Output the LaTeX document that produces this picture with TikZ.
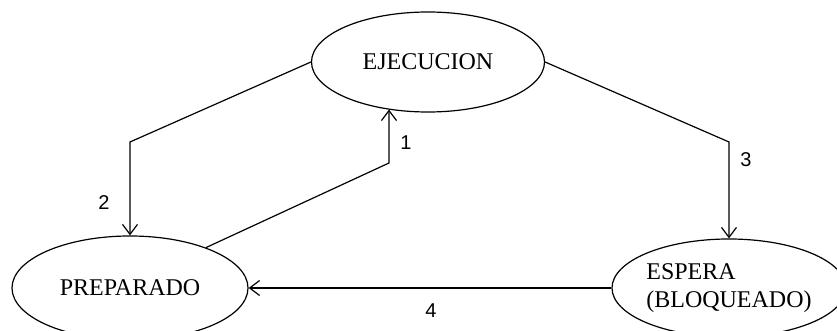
\documentclass[tikz,border=0pt]{standalone}
\usepackage{fontspec}
\setmainfont{Liberation Serif}
\newfontfamily\numfont{Liberation Sans}
\usetikzlibrary{shapes.geometric,arrows.meta}

\begin{document}
\begin{tikzpicture}[x=0.5pt, y=-0.5pt,
        estado/.style={draw, ellipse, line width=0.6pt, inner sep=0pt, font=\fontsize{12}{14}\selectfont},
        flecha/.style={line width=0.6pt, -{Straight Barb[length=5pt, width=7.5pt]}},
        etiqueta/.style={font=\numfont\fontsize{10}{12}\selectfont}]
        % Page frame
        \clip (0,0) rectangle (837,331);

        % States
        \node[estado, minimum width=116.5pt, minimum height=50pt] (ejec) at (428,62) {EJECUCION};
        \node[estado, minimum width=118pt, minimum height=52pt] (prep) at (130,288) {PREPARADO};
        \node[estado, minimum width=117pt, minimum height=49pt, inner xsep=-3pt, align=left] (esp) at (729,288) {ESPERA\\(BLOQUEADO)};

        % Bends
        \coordinate (k2) at (130,142);
        \coordinate (k1) at (389,163);
        \coordinate (k3) at (729,142);

        % Transitions
        \draw[flecha] (prep.28) -- (k1) -- (k1 |- ejec.230);
        \draw[flecha] (ejec.west) -- (k2) -- (prep.north);
        \draw[flecha] (ejec.east) -- (k3) -- (esp.north);
        \draw[flecha] (esp.west) -- (prep.east);

        % Labels
        \node[etiqueta] (n1) at (406,143) {1};
        \node[etiqueta] (n2) at (104,203) {2};
        \node[etiqueta] (n3) at (746,160) {3};
        \node[etiqueta] (n4) at (431,311) {4};
    \end{tikzpicture}
\end{document}
